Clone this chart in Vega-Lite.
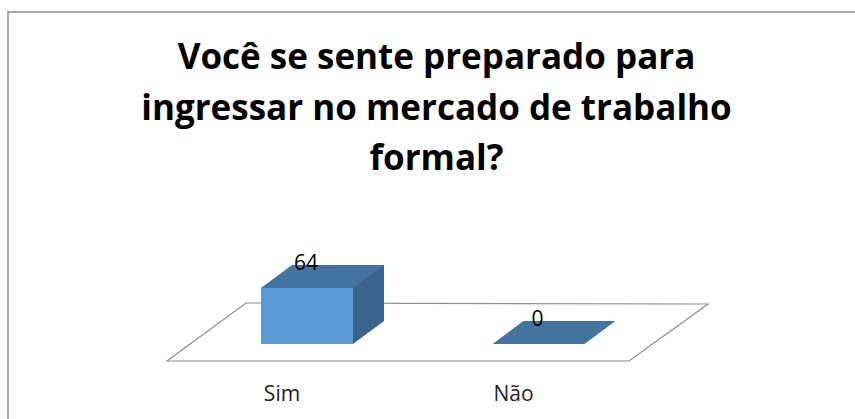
{
  "$schema": "https://vega.github.io/schema/vega-lite/v6.json",
  "width": 857,
  "height": 417,
  "autosize": {"type": "none"},
  "padding": {"left": 8, "top": 12, "right": 0, "bottom": 0},
  "background": "white",
  "config": {"view": {"stroke": "#8a8a8a", "strokeWidth": 1.5}, "font": "Open Sans"},
  "title": {
    "text": ["Você se sente preparado para", "ingressar no mercado de trabalho", "formal?"],
    "font": "Open Sans",
    "fontSize": 35,
    "fontWeight": "bold",
    "color": "#000000",
    "lineHeight": 50.5,
    "baseline": "alphabetic",
    "anchor": "middle",
    "frame": "group",
    "offset": -193
  },
  "data": {"values": [{"resposta": "Sim", "valor": 64}, {"resposta": "Não", "valor": 0}]},
  "encoding": {
    "x": {"field": "resposta", "type": "nominal", "sort": null, "axis": null,
          "scale": {"range": [253, 576.5], "paddingInner": 0.6026, "paddingOuter": 0}}
  },
  "layer": [
    {
      "transform": [{"filter": "datum.resposta === 'Sim'"}],
      "mark": {"type": "point", "shape": "M-0.7,0.085L1.61,0.085L2.005,-0.2L-0.305,-0.205Z", "size": 160000,
               "filled": true, "fill": "white", "stroke": "#8e8e8e", "strokeWidth": 1.2, "opacity": 1},
      "encoding": {"y": {"datum": 0, "type": "quantitative", "axis": null,
                         "scale": {"domain": [-97.14, 379.43], "nice": false, "zero": false}}}
    },
    {
      "mark": {"type": "bar", "color": "#3b638c", "xOffset": 31, "x2Offset": 31, "yOffset": -23, "y2Offset": -23},
      "encoding": {"y": {"field": "valor", "type": "quantitative", "axis": null}, "y2": {"datum": 0}}
    },
    {
      "transform": [{"filter": "datum.valor > 0"}],
      "mark": {"type": "point", "shape": "M0.88,-0.47L0.88,0L0.92,0L1.54,-0.46L1.54,-0.47Z", "size": 10000,
               "filled": true, "color": "#3b638c", "opacity": 1},
      "encoding": {"y": {"datum": 0, "type": "quantitative", "axis": null}}
    },
    {
      "mark": {"type": "bar", "color": "#5b9bd5"},
      "encoding": {"y": {"field": "valor", "type": "quantitative", "axis": null}, "y2": {"datum": 0}}
    },
    {
      "mark": {"type": "point", "shape": "M-0.92,0L0.92,0L1.54,-0.46L-0.3,-0.46Z", "size": 10000,
               "filled": true, "color": "#4473a0", "opacity": 1},
      "encoding": {"y": {"field": "valor", "type": "quantitative", "axis": null}}
    },
    {
      "mark": {"type": "text", "font": "Open Sans", "fontSize": 21, "color": "#000000", "baseline": "alphabetic", "dy": -18, "dx": -1},
      "encoding": {"y": {"field": "valor", "type": "quantitative", "axis": null}, "text": {"field": "valor", "type": "quantitative"}}
    },
    {
      "mark": {"type": "text", "font": "Open Sans", "fontSize": 21, "color": "#1f1f1f", "baseline": "alphabetic", "dy": 57, "dx": -25},
      "encoding": {"y": {"datum": 0, "type": "quantitative", "axis": null}, "text": {"field": "resposta", "type": "nominal"}}
    }
  ]
}
